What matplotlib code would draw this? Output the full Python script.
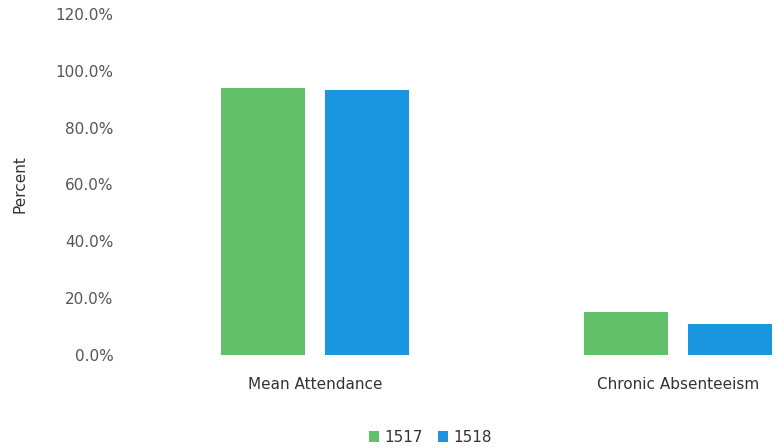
import numpy as np
import matplotlib
matplotlib.use("Agg")
import matplotlib.pyplot as plt
from matplotlib.ticker import FuncFormatter

# data
categories = ["Mean Attendance", "Chronic Absenteeism"]
series_names = ["1517", "1518"]
vals_1517 = [94.0, 15.1]
vals_1518 = [93.4, 11.0]
colors = ["#62bf6a", "#1a95df"]

fig = plt.figure(figsize=(7.82, 4.48), dpi=100)
ax = fig.add_axes([130 / 782, 93 / 448, (782 - 130) / 782, (355 - 14) / 448])

x = np.arange(len(categories))
w = 0.231
off = 0.143
ax.bar(x - off, vals_1517, w, color=colors[0], label=series_names[0])
ax.bar(x + off, vals_1518, w, color=colors[1], label=series_names[1])

ax.set_ylim(0, 120)
ax.set_yticks(np.arange(0, 121, 20))
ax.yaxis.set_major_formatter(FuncFormatter(lambda v, p: "%.1f%%" % v))
ax.set_xlim(-0.51, 1.287)
ax.set_xticks(x)
ax.set_xticklabels(categories, fontsize=11, color="#333333")

for s in ax.spines.values():
    s.set_visible(False)
ax.tick_params(axis="both", length=0)
ax.tick_params(axis="y", labelsize=11, labelcolor="#555555", pad=12)
ax.tick_params(axis="x", pad=16)

ax.set_ylabel("Percent", fontsize=11, color="#333333", labelpad=20)

leg = fig.legend(loc="center", bbox_to_anchor=(430 / 782, 1 - 437 / 448), ncol=2,
                 frameon=False, fontsize=11, handlelength=0.7, handleheight=0.7,
                 columnspacing=1.0, handletextpad=0.3)
for t in leg.get_texts():
    t.set_color("#333333")

fig.savefig("out.png", dpi=100)
